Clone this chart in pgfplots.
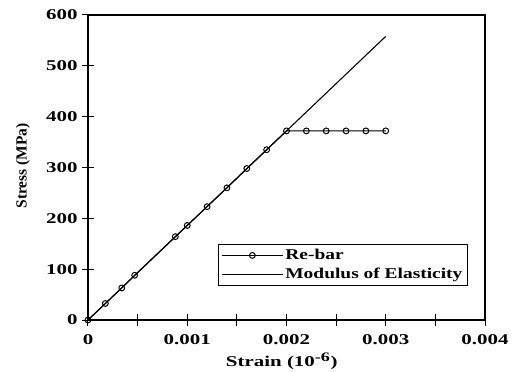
\documentclass[border=0pt]{standalone}
\usepackage{fontspec}
\setmainfont{Liberation Serif}
\newfontfamily\wide{Liberation Serif}[FakeStretch=1.4]
\newfontfamily\legwide{Liberation Serif}[FakeStretch=1.3]
\usepackage{pgfplots}
\pgfplotsset{compat=1.18}
\begin{document}
\begin{tikzpicture}
\begin{axis}[
  name=ax,
  scale only axis,
  width=397bp, height=305bp,
  xmin=0, xmax=0.004, ymin=0, ymax=600,
  scaled x ticks=false, scaled y ticks=false,
  axis line style={line width=1.1bp},
  tick pos=left,
  tick align=center,
  major tick length=12bp,
  minor tick length=12bp,
  every tick/.style={black, line width=1bp},
  xtick={0,0.001,0.002,0.003,0.004},
  xticklabels={0,0.001,0.002,0.003,0.004},
  minor xtick={0.0005,0.0015,0.0025,0.0035},
  ytick={0,100,200,300,400,500,600},
  yticklabels={0,100,200,300,400,500,600},
  /pgf/number format/assume math mode=true,
  ticklabel style={font=\wide\bfseries\fontsize{15}{16}\selectfont},
  xticklabel style={yshift=-5bp},
  yticklabel style={xshift=-1bp},
  xlabel={\wide\bfseries\fontsize{15}{16}\selectfont Strain (10\textsuperscript{\fontsize{13}{13}\selectfont -6})},
  ylabel={\bfseries\fontsize{15.5}{16}\selectfont Stress (MPa)},
  xlabel style={at={(axis description cs:0.488,0)}, anchor=center, yshift=-41bp},
  ylabel style={at={(axis description cs:0,0.505)}, anchor=center, yshift=65bp},
  legend style={
    at={(axis description cs:0.327,0.112)}, anchor=south west,
    draw=black, line width=1bp,
    font=\legwide\bfseries\fontsize{15}{16}\selectfont,
    row sep=3bp, inner sep=3bp,
  },
  legend cell align=left,
  legend image code/.code={
    \draw[mark repeat=2,mark phase=2,#1] plot coordinates {(0bp,0bp) (30.5bp,0bp) (61bp,0bp)};
  },
]
\addplot[black, line width=1.1bp, mark=o, mark size=2.9bp, mark options={line width=1bp, solid}] coordinates {
  (0,0) (0.000175,32.5) (0.00034,63) (0.00047,88) (0.00088,164) (0.001,186)
  (0.0012,223) (0.0014,260) (0.0016,298) (0.0018,335) (0.002,372)
  (0.0022,372) (0.0024,372) (0.0026,372) (0.0028,372) (0.003,372)
};
\addlegendentry{Re-bar}
\addplot[black, line width=1.1bp] coordinates {(0,0) (0.003,558)};
\addlegendentry{Modulus of Elasticity}
\end{axis}
\pgfresetboundingbox
\path[use as bounding box] (ax.south west) ++(-88bp,-52bp) rectangle ++(520bp,372bp);
\end{tikzpicture}
\end{document}
